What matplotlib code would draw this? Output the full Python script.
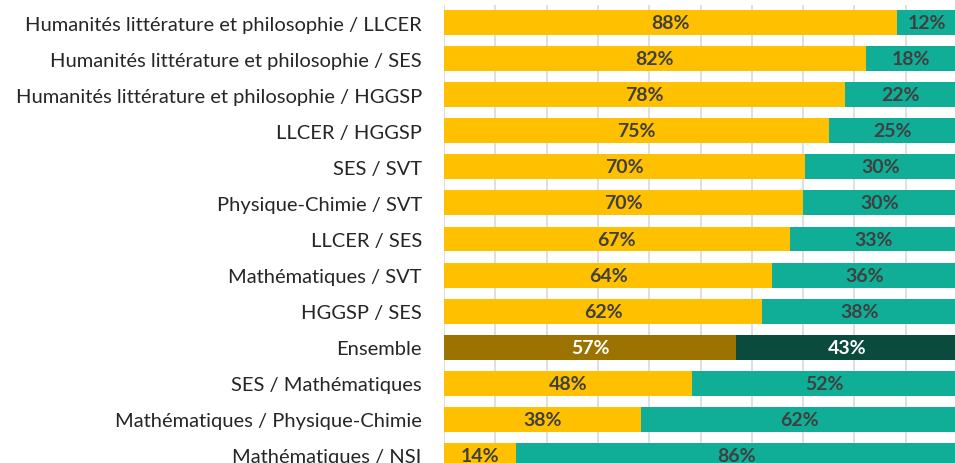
import matplotlib
matplotlib.use("Agg")
import matplotlib.pyplot as plt
import numpy as np

categories = [
    "Humanités littérature et philosophie / LLCER",
    "Humanités littérature et philosophie / SES",
    "Humanités littérature et philosophie / HGGSP",
    "LLCER / HGGSP",
    "SES / SVT",
    "Physique-Chimie / SVT",
    "LLCER / SES",
    "Mathématiques / SVT",
    "HGGSP / SES",
    "Ensemble",
    "SES / Mathématiques",
    "Mathématiques / Physique-Chimie",
    "Mathématiques / NSI",
]
part_a = [88.4, 82.2, 78.1, 75.0, 70.4, 70.0, 67.4, 64.0, 62.0, 57.0, 48.4, 38.4, 14.0]
part_b = [100 - v for v in part_a]

plt.rcParams['font.family'] = ['Lato', 'DejaVu Sans']

YEL = "#FFC000"
TEAL = "#10AE96"
YEL_D = "#9C7300"
TEAL_D = "#0B4B3D"
TXT = "#404040"

fig = plt.figure(figsize=(9.55, 4.64), dpi=100)
W, H = 955, 464
left_px, right_px = 444, 957
top_px, bot_px = 5.5, 474.5
ax = fig.add_axes([left_px / W, 1 - bot_px / H, (right_px - left_px) / W, (bot_px - top_px) / H])

y = np.arange(len(categories))
col_a = [YEL_D if c == "Ensemble" else YEL for c in categories]
col_b = [TEAL_D if c == "Ensemble" else TEAL for c in categories]
ax.barh(y, part_a, height=0.69, color=col_a, zorder=3)
ax.barh(y, part_b, left=part_a, height=0.69, color=col_b, zorder=3)

for i, c in enumerate(categories):
    tc = "white" if c == "Ensemble" else TXT
    ax.text(part_a[i] / 2, i, f"{round(part_a[i])}%", ha="center", va="center",
            color=tc, fontsize=14, fontweight="bold", zorder=4)
    ax.text(part_a[i] + part_b[i] / 2, i, f"{round(part_b[i])}%", ha="center", va="center",
            color=tc, fontsize=14, fontweight="bold", zorder=4)

ax.set_xlim(0, 100)
ax.set_ylim(len(categories) - 0.5, -0.5)
ax.set_xticks(np.arange(0, 101, 10))
ax.xaxis.grid(True, color="#D9D9D9", linewidth=1.2, zorder=0)
ax.tick_params(axis="x", length=0, labelbottom=False)
ax.set_yticks(y)
ax.set_yticklabels(categories, fontsize=14.5, color="#262626")
ax.tick_params(axis="y", length=0, pad=16)
for s in ax.spines.values():
    s.set_visible(False)

fig.savefig("out.png", dpi=100)
